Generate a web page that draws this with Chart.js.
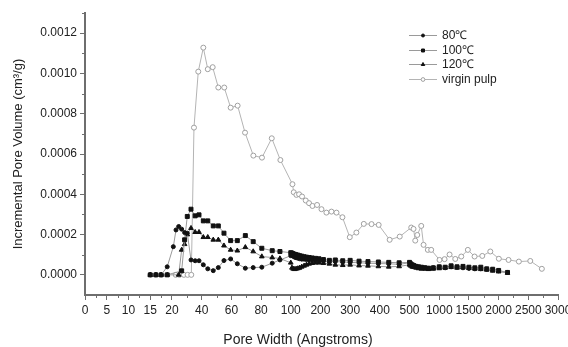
<!DOCTYPE html>
<html><head><meta charset="utf-8">
<script src="https://cdn.jsdelivr.net/npm/chart.js@4/dist/chart.umd.min.js"></script>
<style>html,body{margin:0;padding:0;background:#fff;}#wrap{width:568px;height:347px;position:relative;}</style>
</head><body><div id="wrap"><canvas id="c" width="568" height="347"></canvas></div>
<script>
// ---------- data ----------
const seriesNames = ['80\u2103', '100\u2103', '120\u2103', 'virgin pulp'];
const xTickLabels = [0, 5, 10, 15, 20, 40, 60, 80, 100, 200, 300, 400, 500, 1000, 1500, 2000, 2500, 3000];
const xMinorTicks = [2.5, 7.5, 12.5, 17.5, 30, 50, 70, 90, 150, 250, 350, 450, 750, 1250, 1750, 2250, 2750];
const yTickValues = [0, 0.0002, 0.0004, 0.0006, 0.0008, 0.0010, 0.0012];
const yMinorTicks = [0.0001, 0.0003, 0.0005, 0.0007, 0.0009, 0.0011, 0.0013];

const heatedPoreWidth = [15, 16.3, 17.5, 18.9, 20.9, 22.7, 24.5, 26.5, 28.5, 30.3, 32.8, 35.6, 38.2, 41.1, 44.1, 47.8, 51.2, 55, 59.5, 64, 69.4, 74.7, 80.5, 87.5, 92.7,
  100, 104, 108, 113, 118, 124, 130, 137, 145, 153, 162, 172, 183, 195, 210, 230, 250, 275, 300, 330, 360, 395, 430, 465, 500, 520, 545, 575, 610, 650, 700, 760, 820, 900, 1000, 1100, 1200, 1300, 1400, 1500, 1600, 1700, 1800, 1900, 2000, 2150];

const vol80 = [0, 0, 0, 0.00004, 0.00014, 0.000223, 0.00024, 0.000227, 0.00021, 0.000207, 0.000074, 0.00007, 0.00007, 0.00005, 0.00003, 0.000021, 0.000036, 0.000071, 0.000079, 0.000055, 0.000033, 0.000036, 0.000038, 0.000058, 0.000074,
  0.000095, 0.0001, 0.000092, 0.000088, 0.000085, 0.000083, 0.00008, 0.000078, 0.000078, 0.000076, 0.000075, 0.000074, 0.000072, 0.00007, 0.000068, 0.000065, 0.000066, 0.000064, 0.000062, 0.00006, 0.000058, 0.000056, 0.000055, 0.000052, 0.00006, 0.000048, 0.000045, 0.000042, 0.00004, 0.000038, 0.000035, 0.000035, 0.000032, 0.000035, 0.000038, 0.000035, 0.00004, 0.000038, 0.000035, 0.000032, 0.00003, 0.00003, 0.000028, 0.000025, 0.00002, 0.000012];

const vol100 = [0, 0, 0, 0, null, null, null, 0.00002, 0.000174, 0.00029, 0.000326, 0.000293, 0.000298, 0.000268, 0.000268, 0.000243, 0.000243, 0.000207, 0.00017, 0.00017, 0.000195, 0.000165, 0.000132, 0.00012, 0.000116,
  0.00011, 0.000108, 0.000105, 0.000102, 0.0001, 0.000098, 0.000095, 0.000093, 0.00009, 0.000088, 0.000086, 0.000084, 0.000082, 0.00008, 0.000076, 0.000072, 0.000074, 0.00007, 0.000072, 0.000068, 0.000066, 0.000064, 0.000062, 0.00006, 0.000062, 0.000055, 0.00005, 0.000046, 0.000042, 0.00004, 0.000038, 0.000035, 0.000033, 0.000035, 0.00004, 0.000038, 0.000045, 0.00004, 0.000042, 0.000038, 0.000035, 0.000038, 0.00003, 0.000028, 0.000022, 0.000012];

const vol120 = [0, 0, 0, 0, null, null, 0, 0.000124, 0.000152, 0.0002, 0.000232, 0.000212, 0.000212, 0.000187, 0.000187, 0.000174, 0.000174, 0.000145, 0.000124, 0.00012, 0.000137, 0.000116, 0.000091, 0.000086, 0.000081,
  0.00006, 0.000035, 0.00003, 0.000028, 0.00003, 0.000032, 0.000035, 0.00004, 0.000045, 0.00005, 0.000055, 0.000058, 0.00006, 0.00006, 0.000058, 0.000055, 0.00005, 0.000048, 0.00005, 0.000046, 0.000045, 0.000042, 0.00004, 0.000042, 0.00005, 0.000045, 0.00004, 0.000038, 0.000035, 0.000032, 0.00003, 0.00003, 0.000028, 0.00003, 0.000032, 0.000035, 0.000038, 0.000035, 0.000036, 0.000033, 0.00003, 0.000028, 0.000025, 0.00002, 0.000016, 0.00001];

const virginPoreWidth = [22.5, 25, 28, 30.5, 33, 34.8, 37.7, 41.1, 44.1, 47.4, 51.2, 55.2, 59.5, 64.2, 69.2, 74.8, 80.6, 87.2, 93, 105.7, 110, 119, 128, 138, 150.5, 161.6, 173, 188.6, 203.4, 220, 237, 254, 274, 298.7, 321, 346, 372, 396, 433, 467, 528.6, 567, 596, 630, 697, 736, 808, 865, 1005, 1090, 1174, 1270, 1371, 1482, 1595, 1725, 1860, 2004, 2167, 2341, 2533, 2728];
const volVirgin = [0, 0, 0, 0, 0, 0.000731, 0.001009, 0.001128, 0.001021, 0.001031, 0.00093, 0.00093, 0.00083, 0.00084, 0.000706, 0.000592, 0.000582, 0.000678, 0.00057, 0.00045, 0.00041, 0.000397, 0.0004, 0.000389, 0.000369, 0.000356, 0.000342, 0.000347, 0.000326, 0.000309, 0.000314, 0.000309, 0.000286, 0.000187, 0.00021, 0.000253, 0.000252, 0.000248, 0.000174, 0.00019, 0.000235, 0.000228, 0.00017, 0.000198, 0.000243, 0.000149, 0.000124, 0.000124, 0.000074, 0.000078, 0.000101, 0.000079, 0.000091, 0.000124, 0.000091, 0.000094, 0.000116, 0.00008, 0.000074, 0.000066, 0.000069, 0.00003];

// ---------- piecewise x axis ----------
const AXIS_BREAKS = [[0, 0], [20, 2.93], [100, 6.93], [500, 10.93], [3000, 15.93]];
const POS_TOTAL = AXIS_BREAKS[AXIS_BREAKS.length - 1][1];
function valueToPos(v) {
  const b = AXIS_BREAKS;
  for (let i = 1; i < b.length; i++) {
    if (v <= b[i][0] || i === b.length - 1) {
      const [v0, p0] = b[i - 1], [v1, p1] = b[i];
      return p0 + (v - v0) * (p1 - p0) / (v1 - v0);
    }
  }
}
function posToValue(p) {
  const b = AXIS_BREAKS;
  for (let i = 1; i < b.length; i++) {
    if (p <= b[i][1] || i === b.length - 1) {
      const [v0, p0] = b[i - 1], [v1, p1] = b[i];
      return v0 + (p - p0) * (v1 - v0) / (p1 - p0);
    }
  }
}
class SegmentedScale extends Chart.LinearScale {
  determineDataLimits() { this.min = 0; this.max = 3000; }
  buildTicks() { return xTickLabels.map(v => ({ value: v })); }
  getPixelForValue(v) { return this.getPixelForDecimal(valueToPos(v) / POS_TOTAL); }
  getValueForPixel(px) { return posToValue(this.getDecimalForPixel(px) * POS_TOTAL); }
}
SegmentedScale.id = 'segmented';
SegmentedScale.defaults = {};
Chart.register(SegmentedScale);

// ---------- helpers ----------
const FONT = '"Liberation Sans", Arial, sans-serif';
const TEXT = '#222';
const AXIS = '#6e6e6e';
function pts(xs, ys) { return xs.map((x, i) => ({ x: x, y: ys[i] })).filter(p => p.y !== null); }

const decorPlugin = {
  id: 'decor',
  afterDraw(chart) {
    const ctx = chart.ctx, xs = chart.scales.x, ys = chart.scales.y, a = chart.chartArea;
    ctx.save();
    ctx.strokeStyle = AXIS; ctx.lineWidth = 1;
    ctx.beginPath();
    xMinorTicks.forEach(v => { const p = Math.round(xs.getPixelForValue(v)) + 0.5; ctx.moveTo(p, a.bottom); ctx.lineTo(p, a.bottom + 3); });
    yMinorTicks.forEach(v => { const p = Math.round(ys.getPixelForValue(v)) + 0.5; ctx.moveTo(a.left, p); ctx.lineTo(a.left - 3, p); });
    ctx.stroke();
    // x title
    ctx.fillStyle = TEXT; ctx.font = '14px ' + FONT; ctx.textAlign = 'center'; ctx.textBaseline = 'middle';
    ctx.fillText('Pore Width (Angstroms)', 298, 340);
    // legend
    ctx.font = '12px ' + FONT; ctx.textAlign = 'left';
    chart.data.datasets.forEach((ds, i) => {
      const y = Math.round(35 + i * 14.5) + 0.5;
      ctx.strokeStyle = ds.borderColor; ctx.lineWidth = 1;
      ctx.beginPath(); ctx.moveTo(409, y); ctx.lineTo(437, y); ctx.stroke();
      ctx.fillStyle = ds.pointBackgroundColor; ctx.strokeStyle = ds.pointBorderColor; ctx.lineWidth = 1;
      Chart.helpers.drawPoint(ctx, { pointStyle: ds.pointStyle, rotation: 0, radius: ds.pointRadius * 0.75, borderWidth: 1 }, 423, y);
      ctx.fillStyle = TEXT;
      ctx.fillText(ds.label, 442, y + 0.5);
    });
    ctx.restore();
  }
};

new Chart(document.getElementById('c'), {
  type: 'line',
  data: {
    datasets: [
      { label: seriesNames[0], data: pts(heatedPoreWidth, vol80), borderColor: '#9a9a9a', borderWidth: 1, pointStyle: 'circle', pointRadius: 2, pointBackgroundColor: '#111', pointBorderColor: '#111', pointBorderWidth: 1 },
      { label: seriesNames[1], data: pts(heatedPoreWidth, vol100), borderColor: '#9a9a9a', borderWidth: 1, pointStyle: 'rect', pointRadius: 2.8, pointBackgroundColor: '#111', pointBorderColor: '#111', pointBorderWidth: 1 },
      { label: seriesNames[2], data: pts(heatedPoreWidth, vol120), borderColor: '#9a9a9a', borderWidth: 1, pointStyle: 'triangle', pointRadius: 2.7, pointBackgroundColor: '#111', pointBorderColor: '#111', pointBorderWidth: 1 },
      { label: seriesNames[3], data: pts(virginPoreWidth, volVirgin), borderColor: '#b4b4b4', borderWidth: 1, pointStyle: 'circle', pointRadius: 2.5, pointBackgroundColor: '#fff', pointBorderColor: '#a0a0a0', pointBorderWidth: 1 }
    ]
  },
  options: {
    responsive: false, animation: false, devicePixelRatio: 1,
    layout: { padding: { left: 0, right: 10, top: 13, bottom: 0 } },
    plugins: { legend: { display: false }, tooltip: { enabled: false } },
    elements: { line: { tension: 0 } },
    scales: {
      x: {
        type: 'segmented', position: 'bottom',
        ticks: { autoSkip: false, maxRotation: 0, minRotation: 0, padding: 3, color: TEXT, font: { size: 12, family: FONT }, callback: v => String(v) },
        grid: { display: true, drawOnChartArea: false, drawTicks: true, tickLength: 5, tickColor: AXIS, tickWidth: 1 },
        border: { display: true, color: AXIS, width: 2 },
        afterFit: s => { s.height = 52; s.paddingLeft = 0; s.paddingRight = 0; }
      },
      y: {
        type: 'linear', position: 'left', min: -0.0001, max: 0.0013,
        afterBuildTicks: s => { s.ticks = yTickValues.map(v => ({ value: v })); },
        ticks: { padding: 3, color: TEXT, font: { size: 12, family: FONT }, callback: v => Number(v).toFixed(4) },
        grid: { display: true, drawOnChartArea: false, drawTicks: true, tickLength: 5, tickColor: AXIS, tickWidth: 1 },
        border: { display: true, color: AXIS, width: 2 },
        title: { display: true, text: 'Incremental Pore Volume (cm\u00B3/g)', color: TEXT, font: { size: 13, family: FONT }, padding: { top: 11, bottom: 0 } },
        afterFit: s => { s.width = 85; s.paddingTop = 0; s.paddingBottom = 0; }
      }
    }
  },
  plugins: [decorPlugin]
});
</script>
</body></html>
